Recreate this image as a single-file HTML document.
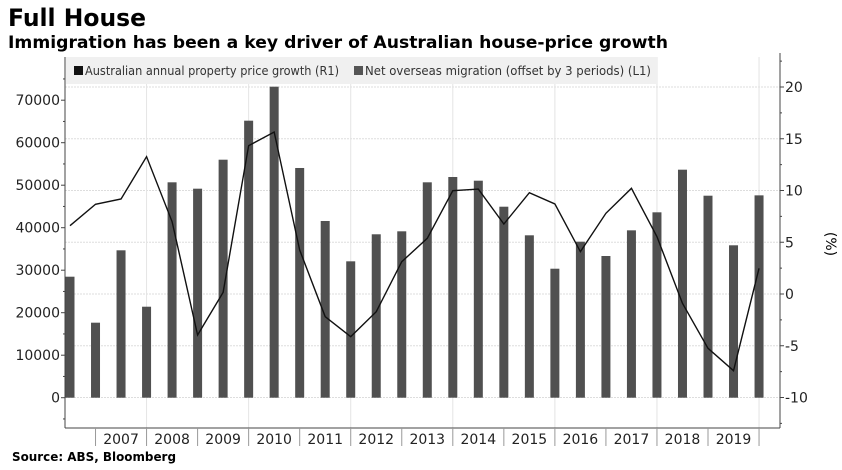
<!DOCTYPE html>
<html><head><meta charset="utf-8"><style>
body{margin:0;background:#fff;}
svg{display:block;font-family:"DejaVu Sans","Liberation Sans",sans-serif;}
</style></head><body>
<svg id="chart" width="842" height="470" viewBox="0 0 842 470" xmlns="http://www.w3.org/2000/svg">
<text x="8" y="26" font-size="24" font-weight="bold" textLength="138" lengthAdjust="spacingAndGlyphs">Full House</text>
<text x="8" y="48" font-size="17" font-weight="bold" textLength="660" lengthAdjust="spacingAndGlyphs">Immigration has been a key driver of Australian house-price growth</text>
<g id="grid"></g>
<g>
<rect x="66" y="57" width="591" height="27" fill="#f0f0f0"/>
<rect x="74" y="66" width="9" height="9" fill="#111"/>
<text x="85" y="75" font-size="12" fill="#333" textLength="254" lengthAdjust="spacingAndGlyphs">Australian annual property price growth (R1)</text>
<rect x="354" y="66" width="9" height="9" fill="#555"/>
<text x="365" y="75" font-size="12" fill="#333" textLength="286" lengthAdjust="spacingAndGlyphs">Net overseas migration (offset by 3 periods) (L1)</text>
</g>
<g id="bars"></g>
<g id="line"></g>
<g id="axes"></g>
<text transform="translate(826,244) rotate(90)" font-size="14" text-anchor="middle">(%)</text>
<text x="12" y="461" font-size="12" font-weight="bold" textLength="164" lengthAdjust="spacingAndGlyphs">Source: ABS, Bloomberg</text>
</svg>
<script>
const migration = [28470,17650,34680,21410,50680,49180,56000,65180,73180,54050,41580,32090,38450,39150,50680,51930,51060,44940,38210,30350,36710,33340,39380,43620,53650,47530,35860,47610];
const priceGrowth = [6.6,8.67,9.18,13.27,6.99,-3.96,0.16,14.33,15.65,4.25,-2.19,-4.12,-1.71,3.12,5.38,9.98,10.14,6.76,9.79,8.7,4.09,7.8,10.21,5.54,-0.9,-5.25,-7.41,2.48];
const years = ["2007","2008","2009","2010","2011","2012","2013","2014","2015","2016","2017","2018","2019"];
const leftTicks = [0,10000,20000,30000,40000,50000,60000,70000];
const rightTicks = [-10,-5,0,5,10,15,20];

const NS="http://www.w3.org/2000/svg";
const x0=70, step=25.52, pLeft=65, pRight=780, pTop=57, pBottom=428;
const xPos=i=>x0+i*step;
const yL=v=>397.7-v*42.5/10000;
const yR=v=>294-v*10.35;
function mk(tag,attrs,parent){const e=document.createElementNS(NS,tag);for(const k in attrs)e.setAttribute(k,attrs[k]);parent.appendChild(e);return e;}
const grid=document.getElementById('grid'),bars=document.getElementById('bars'),lineG=document.getElementById('line'),axes=document.getElementById('axes');

rightTicks.forEach(t=>{
  const g=mk('line',{x1:pLeft,x2:pRight,y1:yR(t),y2:yR(t),stroke:'#ddd','stroke-width':1,'stroke-dasharray':'2,1'},grid);
  
  
});
for(let k=0;k<years.length;k+=2){
  const x=xPos(3+k*2);
  const g=mk('line',{x1:x,x2:x,y1:pTop,y2:pBottom,stroke:'#e4e4e4','stroke-width':1},grid);
  
  
}
migration.forEach((v,i)=>{
  const r=mk('rect',{x:xPos(i)-4.5,y:yL(v),width:9,height:yL(0)-yL(v),fill:'#505050'},bars);
  
  
});
const pl=mk('polyline',{points:priceGrowth.map((v,i)=>xPos(i)+','+yR(v)).join(' '),fill:'none',stroke:'#111','stroke-width':1.4},lineG);



const la=mk('line',{x1:pLeft,x2:pLeft,y1:pTop,y2:pBottom,stroke:'#444'},axes);


const ra=mk('line',{x1:pRight,x2:pRight,y1:pTop-4,y2:pBottom,stroke:'#444'},axes);


const xa=mk('line',{x1:pLeft,x2:pRight,y1:pBottom,y2:pBottom,stroke:'#444'},axes);


for(let v=-5000;v<=75000;v+=5000){
  const y=yL(v); if(y<pTop)continue;
  const t=mk('line',{x1:pLeft-(v%10000===0?4:2),x2:pLeft,y1:y,y2:y,stroke:'#444'},axes);
  
  
}
leftTicks.forEach(v=>{
  const t=mk('text',{x:pLeft-5,y:yL(v)+5,'font-size':14,'text-anchor':'end',fill:'#222'},axes);
  t.textContent=v;
  
  
});
for(let v=-12.5;v<=22.5;v+=2.5){
  const y=yR(v); if(y<pTop-4||y>pBottom)continue;
  const t=mk('line',{x1:pRight,x2:pRight+(v%5===0?4:2),y1:y,y2:y,stroke:'#444'},axes);
  
  
}
rightTicks.forEach(v=>{
  const t=mk('text',{x:pRight+5,y:yR(v)+5,'font-size':14,fill:'#222'},axes);
  t.textContent=v;
  
  
});
for(let k=0;k<=years.length;k++){
  const x=xPos(1+k*2);
  const t=mk('line',{x1:x,x2:x,y1:pBottom,y2:pBottom+18,stroke:'#999'},axes);
  
  
}
years.forEach((yr,k)=>{
  const t=mk('text',{x:xPos(2+k*2),y:pBottom+16,'font-size':14,'text-anchor':'middle',fill:'#222'},axes);
  t.textContent=yr;
  
  
});
</script>
</body></html>
